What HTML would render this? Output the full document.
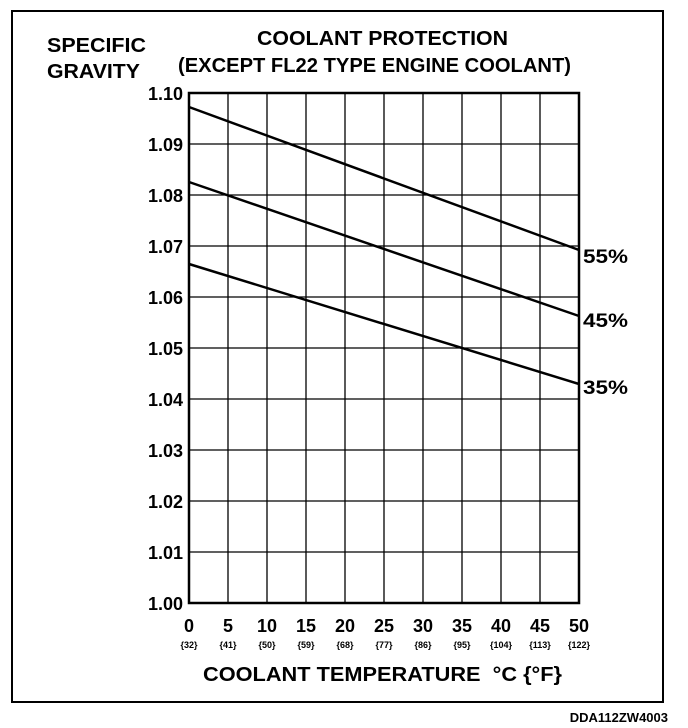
<!DOCTYPE html>
<html><head><meta charset="utf-8"><style>
html,body{margin:0;padding:0;background:#fff;}
svg{display:block;}
text{font-family:"Liberation Sans",sans-serif;font-weight:bold;fill:#000;}
</style></head><body>
<svg width="688" height="728" viewBox="0 0 688 728" xmlns="http://www.w3.org/2000/svg">
<rect x="12" y="11" width="651" height="691" fill="none" stroke="#000" stroke-width="2"/>
<text x="47" y="52" font-size="20" textLength="99" lengthAdjust="spacingAndGlyphs">SPECIFIC</text>
<text x="47" y="78" font-size="20" textLength="93" lengthAdjust="spacingAndGlyphs">GRAVITY</text>
<text x="257" y="45" font-size="20" textLength="251" lengthAdjust="spacingAndGlyphs">COOLANT PROTECTION</text>
<text x="178" y="72" font-size="20" textLength="393" lengthAdjust="spacingAndGlyphs">(EXCEPT FL22 TYPE ENGINE COOLANT)</text>
<g stroke="#000" stroke-width="1.3">
<line x1="228" y1="93" x2="228" y2="603"/><line x1="267" y1="93" x2="267" y2="603"/>
<line x1="306" y1="93" x2="306" y2="603"/><line x1="345" y1="93" x2="345" y2="603"/>
<line x1="384" y1="93" x2="384" y2="603"/><line x1="423" y1="93" x2="423" y2="603"/>
<line x1="462" y1="93" x2="462" y2="603"/><line x1="501" y1="93" x2="501" y2="603"/>
<line x1="540" y1="93" x2="540" y2="603"/>
<line x1="189" y1="144" x2="579" y2="144"/><line x1="189" y1="195" x2="579" y2="195"/>
<line x1="189" y1="246" x2="579" y2="246"/><line x1="189" y1="297" x2="579" y2="297"/>
<line x1="189" y1="348" x2="579" y2="348"/><line x1="189" y1="399" x2="579" y2="399"/>
<line x1="189" y1="450" x2="579" y2="450"/><line x1="189" y1="501" x2="579" y2="501"/>
<line x1="189" y1="552" x2="579" y2="552"/>
</g>
<rect x="189" y="93" width="390" height="510" fill="none" stroke="#000" stroke-width="2.5"/>
<g stroke="#000" stroke-width="2.5">
<line x1="189" y1="107" x2="579" y2="250"/>
<line x1="189" y1="182" x2="579" y2="316"/>
<line x1="189" y1="264" x2="579" y2="384"/>
</g>
<text x="583" y="263" font-size="19" font-weight="normal" textLength="45" lengthAdjust="spacingAndGlyphs">55%</text>
<text x="583" y="327" font-size="19" font-weight="normal" textLength="45" lengthAdjust="spacingAndGlyphs">45%</text>
<text x="583" y="394" font-size="19" font-weight="normal" textLength="45" lengthAdjust="spacingAndGlyphs">35%</text>
<g font-size="18" text-anchor="end">
<text x="183" y="100">1.10</text><text x="183" y="151">1.09</text><text x="183" y="202">1.08</text>
<text x="183" y="253">1.07</text><text x="183" y="304">1.06</text><text x="183" y="355">1.05</text>
<text x="183" y="406">1.04</text><text x="183" y="457">1.03</text><text x="183" y="508">1.02</text>
<text x="183" y="559">1.01</text><text x="183" y="610">1.00</text>
</g>
<g font-size="18" text-anchor="middle">
<text x="189" y="632">0</text><text x="228" y="632">5</text><text x="267" y="632">10</text>
<text x="306" y="632">15</text><text x="345" y="632">20</text><text x="384" y="632">25</text>
<text x="423" y="632">30</text><text x="462" y="632">35</text><text x="501" y="632">40</text>
<text x="540" y="632">45</text><text x="579" y="632">50</text>
</g>
<g font-size="9" text-anchor="middle" font-weight="normal">
<text x="189" y="648">{32}</text><text x="228" y="648">{41}</text><text x="267" y="648">{50}</text>
<text x="306" y="648">{59}</text><text x="345" y="648">{68}</text><text x="384" y="648">{77}</text>
<text x="423" y="648">{86}</text><text x="462" y="648">{95}</text><text x="501" y="648">{104}</text>
<text x="540" y="648">{113}</text><text x="579" y="648">{122}</text>
</g>
<text x="203" y="681" font-size="20" textLength="359" lengthAdjust="spacingAndGlyphs" xml:space="preserve">COOLANT TEMPERATURE  °C {°F}</text>
<text x="668" y="722" font-size="13" text-anchor="end">DDA112ZW4003</text>
</svg>
</body></html>
